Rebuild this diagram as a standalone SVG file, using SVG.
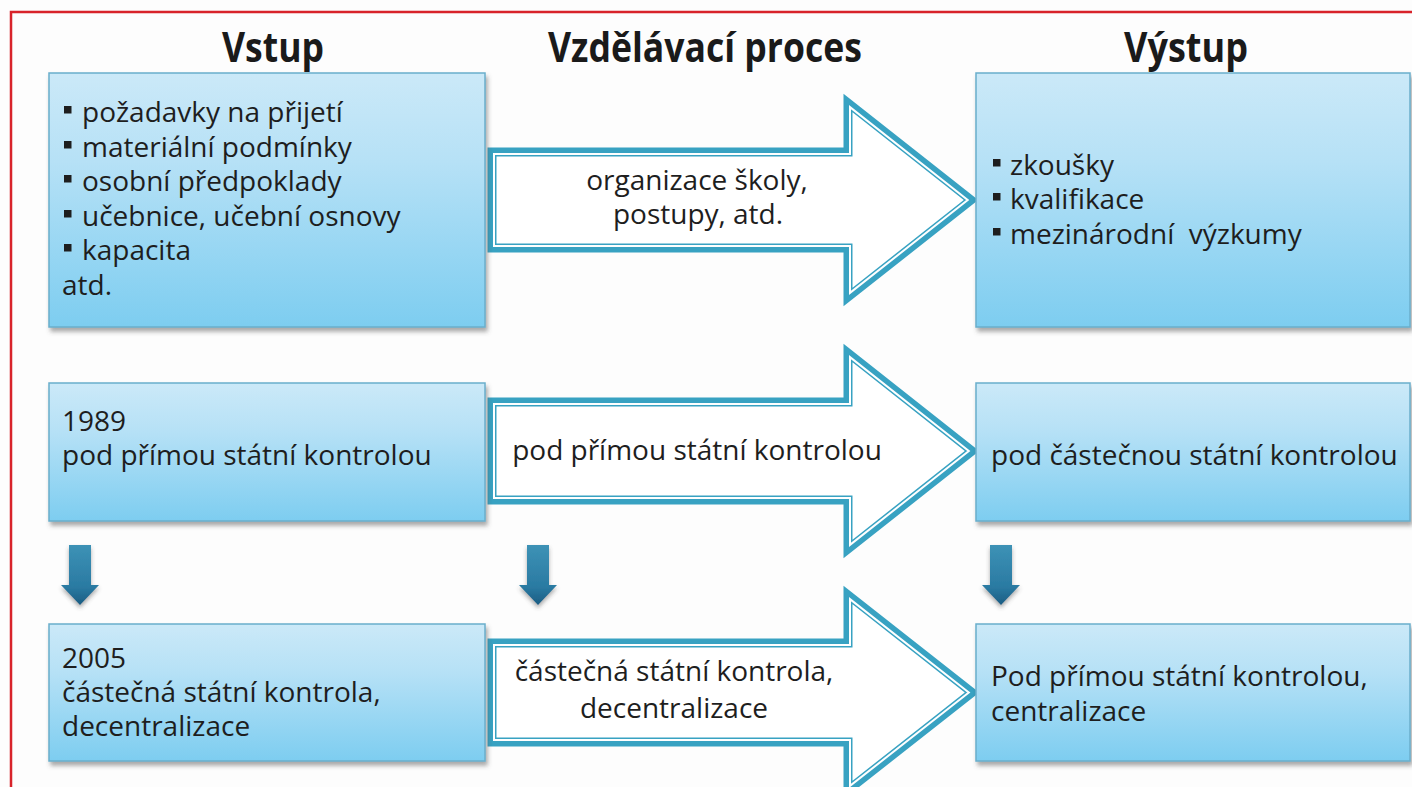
<svg xmlns="http://www.w3.org/2000/svg" width="1412" height="787" viewBox="0 0 1412 787">
<style>
.hdr{font-family:"Open Sans","Liberation Sans",sans-serif;font-weight:bold;font-size:41px;fill:#1a1a1a;text-anchor:middle}
.t{font-family:"Open Sans","Liberation Sans",sans-serif;font-size:28px;fill:#1e1e1e}
.c{text-anchor:middle}
.box{fill:url(#boxg);stroke:#6aaecb;stroke-width:1.5;filter:url(#sh)}
.arw{fill:#ffffff;stroke:#38a2c2;stroke-width:9;stroke-linejoin:miter}
.arwin{fill:none;stroke:#ffffff;stroke-width:2;stroke-linejoin:miter}
.dn{fill:url(#dng);filter:url(#sh2)}
.bul{fill:#1e1e1e}
.red{stroke:#d8232a;stroke-width:2.5;fill:none}
</style>
<defs>
<linearGradient id="boxg" x1="0" y1="0" x2="0" y2="1">
<stop offset="0" stop-color="#cbe9f8"/>
<stop offset="0.35" stop-color="#b6e1f6"/>
<stop offset="1" stop-color="#7dcdf0"/>
</linearGradient>
<linearGradient id="dng" x1="0" y1="0" x2="0" y2="1">
<stop offset="0" stop-color="#3d92b6"/>
<stop offset="0.7" stop-color="#2a7aa2"/>
<stop offset="1" stop-color="#1b5c82"/>
</linearGradient>
<filter id="sh" x="-5%" y="-5%" width="110%" height="115%">
<feDropShadow dx="2" dy="4" stdDeviation="2" flood-color="#555" flood-opacity="0.5"/>
</filter>
<filter id="sh2" x="-30%" y="-20%" width="160%" height="150%">
<feDropShadow dx="0" dy="3" stdDeviation="2" flood-color="#444" flood-opacity="0.45"/>
</filter>
</defs>
<rect x="0" y="0" width="1412" height="787" fill="#fdfdfd"/>
<path class="red" d="M11,787 V12 H1412"/>

<g id="headers">
<text class="hdr" x="273" y="62" textLength="102" lengthAdjust="spacingAndGlyphs">Vstup</text>
<text class="hdr" x="705" y="62" textLength="314" lengthAdjust="spacingAndGlyphs">Vzdělávací proces</text>
<text class="hdr" x="1186" y="62" textLength="124" lengthAdjust="spacingAndGlyphs">Výstup</text>
</g>

<g id="connectors">
<g id="arrow1">
<polygon class="arw" points="492,152 848,152 848,103 971,200 848,297 848,248 492,248"/>
<polygon class="arwin" points="494,154 850,154 850,107.1 967.7,200 850,292.9 850,246 494,246"/>
</g>
<g id="arrow2">
<polygon class="arw" points="492,402 848,402 848,353 972,451 848,549 848,500 492,500"/>
<polygon class="arwin" points="494,404 850,404 850,357.1 968.8,451 850,544.9 850,498 494,498"/>
</g>
<g id="arrow3">
<polygon class="arw" points="492,643 848,643 848,595 972,692.5 848,790 848,742 492,742"/>
<polygon class="arwin" points="494,645 850,645 850,599.1 968.8,692.5 850,785.9 850,740 494,740"/>
</g>
<g id="down1"><path class="dn" d="M69,545 H91 V585 H99 L80,605 L61,585 H69 Z"/></g>
<g id="down2"><path class="dn" d="M527,545 H549 V585 H557 L538,605 L519,585 H527 Z"/></g>
<g id="down3"><path class="dn" d="M990,545 H1012 V585 H1020 L1001,605 L982,585 H990 Z"/></g>
</g>

<g id="arrow1-label">
<text class="t c" y="190"><tspan x="697">organizace školy,</tspan><tspan x="698" dy="34">postupy, atd.</tspan></text>
</g>
<g id="arrow2-label">
<text class="t c" x="697" y="460">pod přímou státní kontrolou</text>
</g>
<g id="arrow3-label">
<text class="t c" y="681"><tspan x="674">částečná státní kontrola,</tspan><tspan x="674" dy="37">decentralizace</tspan></text>
</g>

<g id="vstup-top">
<rect class="box" x="49" y="73" width="436" height="254"/>
<rect class="bul" x="64" y="106" width="7.5" height="7.5"/>
<rect class="bul" x="64" y="141" width="7.5" height="7.5"/>
<rect class="bul" x="64" y="175" width="7.5" height="7.5"/>
<rect class="bul" x="64" y="210" width="7.5" height="7.5"/>
<rect class="bul" x="64" y="244" width="7.5" height="7.5"/>
<text class="t" y="122"><tspan x="82">požadavky na přijetí</tspan><tspan x="82" dy="35">materiální podmínky</tspan><tspan x="82" dy="34">osobní předpoklady</tspan><tspan x="82" dy="35">učebnice, učební osnovy</tspan><tspan x="82" dy="34">kapacita</tspan><tspan x="62" dy="35">atd.</tspan></text>
</g>

<g id="vystup-top">
<rect class="box" x="976" y="73" width="434" height="254"/>
<rect class="bul" x="993" y="159" width="7.5" height="7.5"/>
<rect class="bul" x="993" y="193" width="7.5" height="7.5"/>
<rect class="bul" x="993" y="228" width="7.5" height="7.5"/>
<text class="t" y="175" xml:space="preserve"><tspan x="1010">zkoušky</tspan><tspan x="1010" dy="34">kvalifikace</tspan><tspan x="1010" dy="35">mezinárodní  výzkumy</tspan></text>
</g>

<g id="vstup-1989">
<rect class="box" x="49" y="383" width="436" height="138"/>
<text class="t" y="431"><tspan x="62">1989</tspan><tspan x="62" dy="34">pod přímou státní kontrolou</tspan></text>
</g>

<g id="vystup-1989">
<rect class="box" x="976" y="383" width="434" height="138"/>
<text class="t" x="991" y="465">pod částečnou státní kontrolou</text>
</g>

<g id="vstup-2005">
<rect class="box" x="49" y="624" width="436" height="137"/>
<text class="t" y="668"><tspan x="62">2005</tspan><tspan x="62" dy="34">částečná státní kontrola,</tspan><tspan x="62" dy="34">decentralizace</tspan></text>
</g>

<g id="vystup-2005">
<rect class="box" x="976" y="624" width="434" height="137"/>
<text class="t" y="686"><tspan x="991">Pod přímou státní kontrolou,</tspan><tspan x="991" dy="35">centralizace</tspan></text>
</g>
</svg>
